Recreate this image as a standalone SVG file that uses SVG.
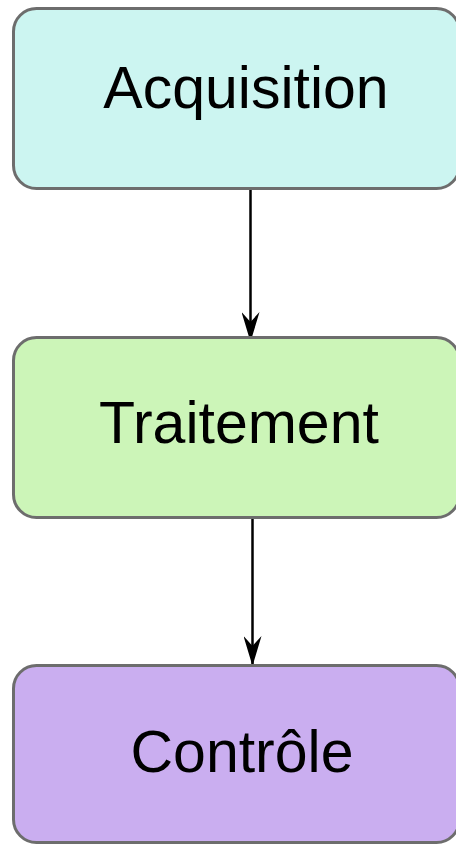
<svg xmlns="http://www.w3.org/2000/svg" width="456" height="844" viewBox="0 0 456 844">
<style>
.box{stroke:#6d6d6d;stroke-width:3}
.lbl{font-family:"Liberation Sans",Arial,sans-serif;font-size:59px;fill:#000;text-anchor:middle}
.edge{stroke:#000;stroke-width:2.5;fill:none}
</style>
<defs>
<marker id="arr" viewBox="0 0 30 18" refX="30" refY="9" markerWidth="30" markerHeight="18" markerUnits="userSpaceOnUse" orient="auto">
<path d="M0,0 L10,9 L0,18 L30,9 Z" fill="#000"/>
</marker>
</defs>
<rect width="456" height="844" fill="#fff"/>
<g id="connectors">
<line class="edge" x1="250.5" y1="190" x2="250.5" y2="342" marker-end="url(#arr)"/>
<line class="edge" x1="252.5" y1="519" x2="252.5" y2="666" marker-end="url(#arr)"/>
</g>
<g id="node-acquisition">
<rect class="box" x="13.5" y="8.5" width="446" height="180" rx="23" fill="#ccf5f1"/>
<text class="lbl" x="246" y="108">Acquisition</text>
</g>
<g id="node-traitement">
<rect class="box" x="13.5" y="337.5" width="446" height="180" rx="23" fill="#ccf5b8"/>
<text class="lbl" x="239" y="443">Traitement</text>
</g>
<g id="node-controle">
<rect class="box" x="13.5" y="665.5" width="446" height="177" rx="23" fill="#caaef0"/>
<text class="lbl" x="242" y="772">Contrôle</text>
</g>
</svg>
